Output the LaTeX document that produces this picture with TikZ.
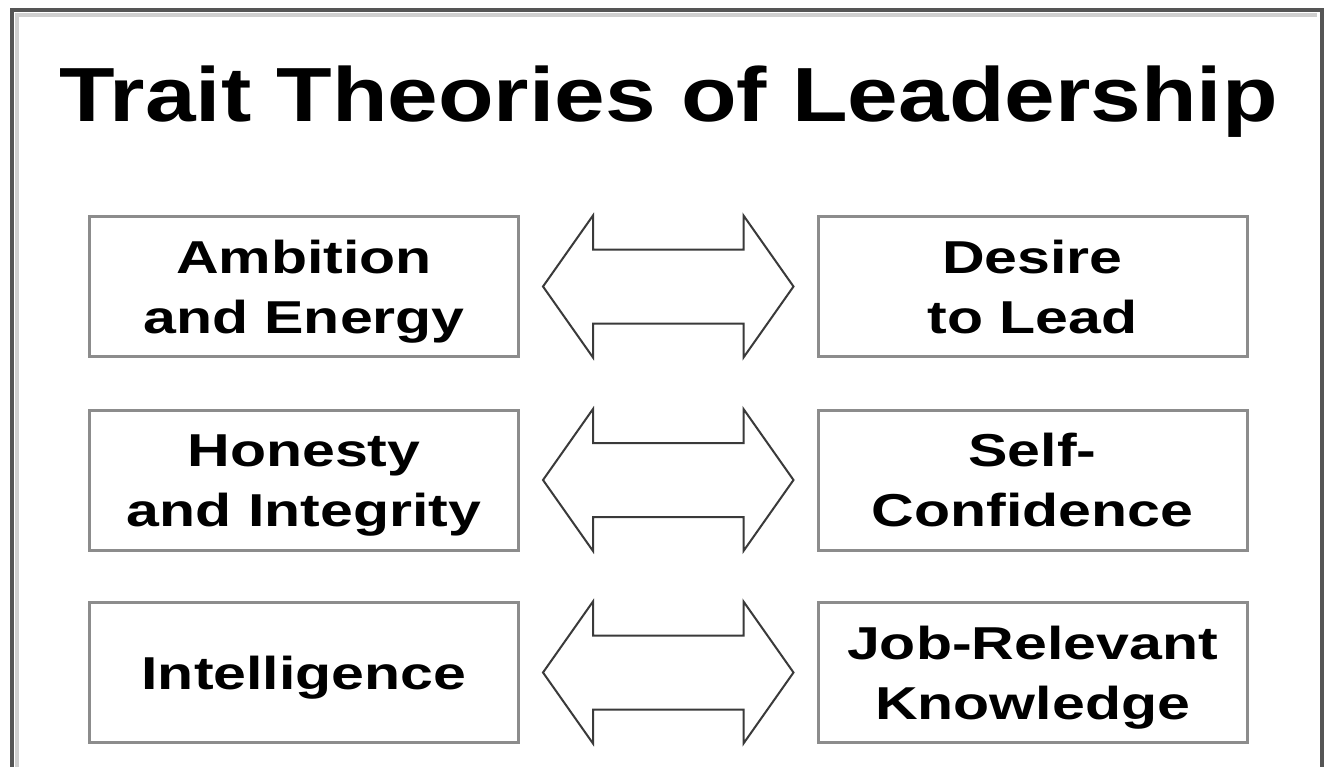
\documentclass[tikz,border=0pt]{standalone}
\usepackage{fontspec}
\usepackage{graphicx}
\setmainfont{Liberation Sans}
\usetikzlibrary{calc}
\definecolor{framegray}{HTML}{555555}
\definecolor{framelight}{HTML}{CFCFCF}
\definecolor{boxgray}{HTML}{8C8C8C}
\definecolor{arrgray}{HTML}{3A3A3A}
\newcommand{\twoline}[2]{\raisebox{0pt}[69.75pt][0pt]{\scalebox{1.28}[1]{\begin{tabular}[b]{@{}c@{}}#1\\#2\end{tabular}}}}
\newcommand{\oneline}[1]{\raisebox{0pt}[24.75pt][0pt]{\scalebox{1.28}[1]{#1}}}
\tikzset{
  trait/.style={draw=boxgray, line width=2.25pt, minimum width=321.75pt, minimum height=105pt,
    inner sep=0pt, font=\fontsize{34.6pt}{45pt}\selectfont\bfseries},
  blockarrow/.style={draw=arrgray, line width=1.5pt, line join=miter},
  framestyle/.style={draw=framegray, line width=3pt},
  titlestyle/.style={inner sep=0pt, font=\fontsize{57.6pt}{60pt}\selectfont\bfseries}
}
\begin{document}
\begin{tikzpicture}[x=0.75pt, y=-0.75pt]
\useasboundingbox[fill=white] (0,0) rectangle (1328,767);
% frame
\draw[draw=framelight, line width=3pt] (17,767) -- (17,15) -- (1317,15);
\draw[framestyle] (12,767) -- (12,10) -- (1322,10) -- (1322,767);
% title
\node[titlestyle] (title) at (668.5,94.5) {\raisebox{0pt}[41.25pt][0pt]{\scalebox{1.185}[1]{Trait Theories of Leadership}}};
% boxes
\node[trait] (a1) at (304,286.5) {\twoline{Ambition}{and Energy}};
\node[trait] (b1) at (1032.5,286.5) {\twoline{Desire}{to Lead}};
\node[trait] (a2) at (304,480) {\twoline{Honesty}{and Integrity}};
\node[trait] (b2) at (1032.5,480) {\twoline{Self-}{Confidence}};
\node[trait] (a3) at (304,672.5) {\oneline{Intelligence}};
\node[trait] (b3) at (1032.5,672.5) {\twoline{Job-Relevant}{Knowledge}};
% double block arrows
\foreach \r in {1,2,3}{
  \draw[blockarrow] ($(a\r.east)+(23,0)$) -- ($(a\r.east)+(73,-71)$) -- ($(a\r.east)+(73,-37)$)
    -- ($(b\r.west)+(-73,-37)$) -- ($(b\r.west)+(-73,-71)$) -- ($(b\r.west)+(-23,0)$)
    -- ($(b\r.west)+(-73,71)$) -- ($(b\r.west)+(-73,37)$) -- ($(a\r.east)+(73,37)$)
    -- ($(a\r.east)+(73,71)$) -- cycle;
}
\end{tikzpicture}
\end{document}
